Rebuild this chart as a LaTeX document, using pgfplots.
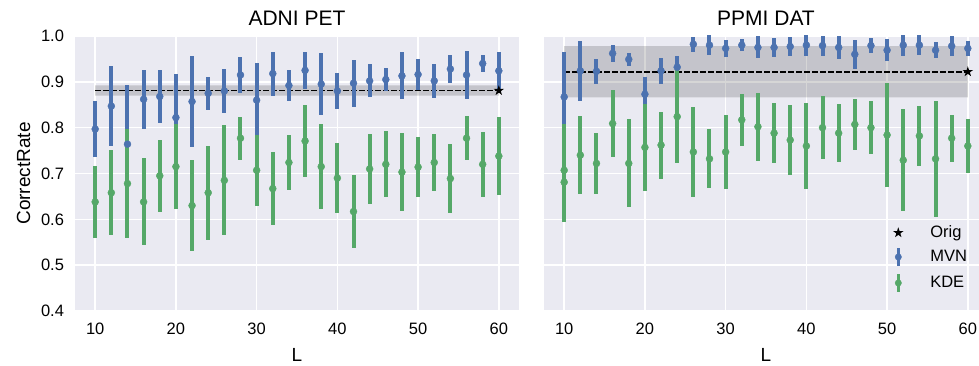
\documentclass[border=0pt]{standalone}
\usepackage{fontspec}
\setmainfont{Liberation Sans}
\usepackage{pgfplots}
\pgfplotsset{compat=1.18}
\usepackage{pgfplotstable}

\definecolor{bg}{HTML}{EAEAF2}
\definecolor{sblue}{HTML}{4C72B0}
\definecolor{sgreen}{HTML}{55A868}

\pgfdeclareplotmark{fstar}{%
  \pgfpathmoveto{\pgfpointpolar{90}{\pgfplotmarksize}}%
  \pgfpathlineto{\pgfpointpolar{126}{0.382\pgfplotmarksize}}%
  \pgfpathlineto{\pgfpointpolar{162}{\pgfplotmarksize}}%
  \pgfpathlineto{\pgfpointpolar{198}{0.382\pgfplotmarksize}}%
  \pgfpathlineto{\pgfpointpolar{234}{\pgfplotmarksize}}%
  \pgfpathlineto{\pgfpointpolar{270}{0.382\pgfplotmarksize}}%
  \pgfpathlineto{\pgfpointpolar{306}{\pgfplotmarksize}}%
  \pgfpathlineto{\pgfpointpolar{342}{0.382\pgfplotmarksize}}%
  \pgfpathlineto{\pgfpointpolar{18}{\pgfplotmarksize}}%
  \pgfpathlineto{\pgfpointpolar{54}{0.382\pgfplotmarksize}}%
  \pgfpathclose\pgfusepathqfill}

\pgfplotstableread{
L y e
10 0.797 0.062
12 0.847 0.087
14 0.764 0.128
16 0.862 0.064
18 0.868 0.058
20 0.822 0.094
22 0.857 0.100
24 0.875 0.036
26 0.880 0.048
28 0.915 0.039
30 0.860 0.080
32 0.918 0.048
34 0.892 0.033
36 0.925 0.040
38 0.895 0.068
40 0.880 0.039
42 0.897 0.051
44 0.902 0.036
46 0.905 0.025
48 0.913 0.051
50 0.916 0.033
52 0.902 0.037
54 0.928 0.030
56 0.915 0.052
58 0.940 0.019
60 0.924 0.040
}\adnimvn

\pgfplotstableread{
L y e
10 0.638 0.078
12 0.658 0.093
14 0.678 0.118
16 0.638 0.095
18 0.695 0.078
20 0.715 0.093
22 0.630 0.099
24 0.658 0.103
26 0.685 0.120
28 0.777 0.047
30 0.707 0.078
32 0.667 0.080
34 0.724 0.061
36 0.771 0.078
38 0.715 0.093
40 0.690 0.076
42 0.617 0.079
44 0.710 0.076
46 0.720 0.072
48 0.703 0.085
50 0.714 0.066
52 0.724 0.062
54 0.689 0.076
56 0.777 0.048
58 0.720 0.071
60 0.738 0.085
}\adnikde

\pgfplotstableread{
L y e
10 0.867 0.099
12 0.924 0.066
14 0.923 0.027
16 0.962 0.019
18 0.949 0.014
20 0.873 0.037
22 0.924 0.029
24 0.932 0.025
26 0.982 0.016
28 0.980 0.022
30 0.973 0.018
32 0.980 0.013
34 0.975 0.024
36 0.975 0.021
38 0.977 0.021
40 0.980 0.024
42 0.979 0.022
44 0.975 0.025
46 0.960 0.031
48 0.979 0.016
50 0.969 0.024
52 0.980 0.024
54 0.980 0.022
56 0.969 0.017
58 0.978 0.021
60 0.973 0.016
}\ppmimvn

\pgfplotstableread{
L y e
10 0.707 0.102
10 0.681 0.086
12 0.740 0.085
14 0.722 0.067
16 0.809 0.074
18 0.722 0.096
20 0.757 0.095
22 0.762 0.073
24 0.824 0.101
26 0.747 0.098
28 0.732 0.064
30 0.747 0.081
32 0.817 0.057
34 0.802 0.074
36 0.788 0.066
38 0.773 0.077
40 0.760 0.094
42 0.800 0.068
44 0.788 0.063
46 0.807 0.055
48 0.800 0.058
50 0.784 0.114
52 0.729 0.111
54 0.782 0.066
56 0.732 0.126
58 0.777 0.051
60 0.760 0.059
}\ppmikde

\pgfplotsset{
  sbstyle/.style={
    scale only axis, width=444pt, height=275pt,
    xmin=7.5, xmax=62.5, ymin=0.4, ymax=1.0,
    xtick={10,20,30,40,50,60},
    ytick={0.4,0.5,0.6,0.7,0.8,0.9,1.0},
    axis background/.style={fill=bg},
    axis line style={draw=none},
    major tick length=0pt,
    grid=major,
    major grid style={white, line width=1.6pt},
    tick label style={font=\fontsize{16.5}{19}\selectfont},
    /pgf/number format/assume math mode=true,
    yticklabel style={/pgf/number format/fixed, /pgf/number format/fixed zerofill, /pgf/number format/precision=1, xshift=-7.5pt},
    xticklabel style={yshift=-8.5pt},
    every axis title/.style={at={(axis description cs:0.5,1)}, anchor=base, yshift=10pt, font=\fontsize{21}{24}\selectfont},
    every axis x label/.style={at={(axis description cs:0.5,0)}, anchor=base, yshift=-51pt, font=\fontsize{19}{22}\selectfont},
    every axis y label/.style={at={(axis description cs:0,0.5)}, xshift=-45pt, rotate=90, anchor=base, font=\fontsize{19}{22}\selectfont},
  },
  mvn/.style={only marks, mark=*, mark size=3.5pt, color=sblue,
    error bars/y dir=both, error bars/y explicit, error bars/error mark=none,
    error bars/error bar style={line width=4pt, color=sblue}},
  kde/.style={only marks, mark=*, mark size=3.5pt, color=sgreen,
    error bars/y dir=both, error bars/y explicit, error bars/error mark=none,
    error bars/error bar style={line width=4pt, color=sgreen}},
}

\begin{document}
\begin{tikzpicture}
\useasboundingbox (0,0) rectangle (979pt,366pt);
\clip (0,0) rectangle (979pt,366pt);

\begin{axis}[sbstyle, at={(75pt,55pt)}, anchor=south west,
  title={ADNI PET}, xlabel={L}, ylabel={CorrectRate}]
  \addplot[draw=none, fill=black, fill opacity=0.16, forget plot] coordinates {(10,0.870) (60,0.870) (60,0.892) (10,0.892) (10,0.870)};
  \addplot[black, line width=1.8pt, dash pattern=on 5.5pt off 2.5pt, forget plot] coordinates {(10,0.881) (60,0.881)};
  \addplot[mvn, forget plot] table[x=L, y=y, y error=e] {\adnimvn};
  \addplot[kde, forget plot] table[x=L, y=y, y error=e] {\adnikde};
  \addplot[only marks, mark=fstar, mark size=5.5pt, black, fill=black, forget plot] coordinates {(60,0.881)};
\end{axis}

\begin{axis}[sbstyle, at={(544pt,55pt)}, anchor=south west,
  title={PPMI DAT}, xlabel={L}, yticklabels={},
  legend style={draw=none, fill=none, inner sep=0pt, row sep=5pt,
    at={(axis description cs:0.775,0.317)}, anchor=north west,
    font=\fontsize{16.5}{19}\selectfont, nodes={inner sep=2pt}},
  legend cell align=left]
  \addplot[draw=none, fill=black, fill opacity=0.16, forget plot] coordinates {(10,0.866) (60,0.866) (60,0.978) (10,0.978) (10,0.866)};
  \addplot[black, line width=1.8pt, dash pattern=on 5.5pt off 2.5pt, forget plot] coordinates {(10,0.922) (60,0.922)};
  \addplot[mvn, forget plot] table[x=L, y=y, y error=e] {\ppmimvn};
  \addplot[kde, forget plot] table[x=L, y=y, y error=e] {\ppmikde};
  \addplot[only marks, mark=fstar, mark size=5.5pt, black, fill=black, forget plot] coordinates {(60,0.922)};
  \addlegendimage{legend image code/.code={\path[draw=none,fill=none] (0pt,-8pt) rectangle (40pt,8pt); \draw[black,fill=black] plot[only marks, mark=fstar, mark size=5.5pt] coordinates {(10pt,0pt)};}}
  \addlegendentry{Orig}
  \addlegendimage{legend image code/.code={\path[draw=none,fill=none] (0pt,-8pt) rectangle (40pt,8pt); \draw[sblue, line width=3pt] (10pt,-9pt) -- (10pt,9pt); \fill[sblue] (10pt,0pt) circle (3.2pt);}}
  \addlegendentry{MVN}
  \addlegendimage{legend image code/.code={\path[draw=none,fill=none] (0pt,-8pt) rectangle (40pt,8pt); \draw[sgreen, line width=3pt] (10pt,-9pt) -- (10pt,9pt); \fill[sgreen] (10pt,0pt) circle (3.2pt);}}
  \addlegendentry{KDE}
\end{axis}
\end{tikzpicture}
\end{document}
